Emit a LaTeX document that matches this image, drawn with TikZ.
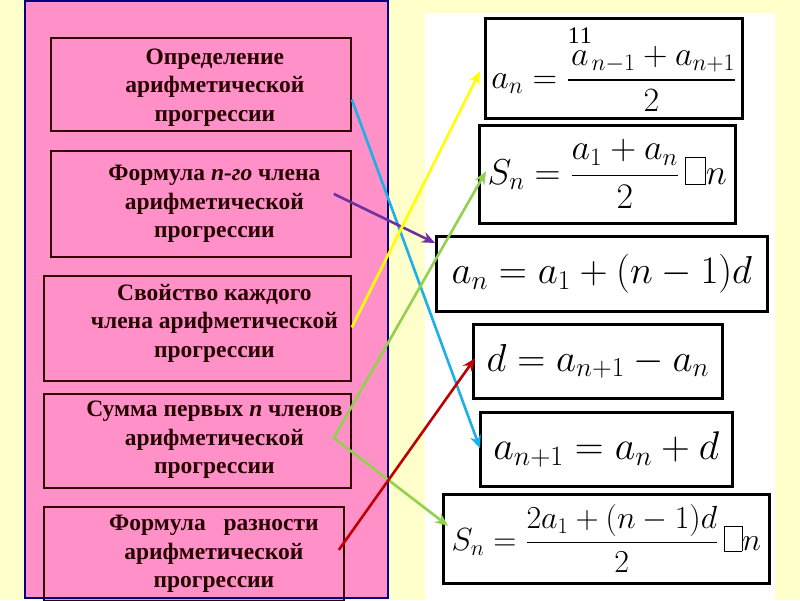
\RequirePackage{fix-cm}
\documentclass[tikz,border=0pt]{standalone}
\usepackage{amsmath,amssymb}
\usepackage{fontspec}
\setmainfont{Liberation Serif}
\usetikzlibrary{arrows.meta,calc}
\definecolor{bgyellow}{RGB}{255,255,204}
\definecolor{pinkfill}{RGB}{255,145,200}
\definecolor{panelnavy}{RGB}{0,0,128}
\definecolor{arcyan}{RGB}{28,175,232}
\definecolor{arpurple}{RGB}{112,48,160}
\definecolor{aryellow}{RGB}{255,255,0}
\definecolor{argreen}{RGB}{146,208,80}
\definecolor{arred}{RGB}{192,0,0}
\newcommand{\tofubox}{\mbox{\setlength{\fboxsep}{0pt}\setlength{\fboxrule}{0.5pt}\fbox{\rule{0pt}{0.75em}\hspace{0.55em}}}}

\begin{document}
\begin{tikzpicture}[
  x=1pt, y=-1pt,
  topic/.style={draw=black!80!red, line width=1.8pt, fill=pinkfill, anchor=north west, inner sep=0pt},
  txt/.style={font=\fontsize{23.5}{28.5}\selectfont\bfseries, align=center, text=black!85!red},
  formula/.style={draw, line width=2.6pt, fill=white, anchor=north west, inner sep=0pt},
  arr/.style={-{Stealth[length=13pt,width=11pt]}, line width=2.6pt}
]
\useasboundingbox (0,0) rectangle (800,600);
\fill[bgyellow] (0,0) rectangle (800,600);
\filldraw[fill=pinkfill, draw=panelnavy, line width=2pt] (25,1) rectangle (388,598);
\fill[white] (425,13) rectangle (775,602);

% left column
\node[topic, minimum width=300pt, minimum height=93pt,
  label={[txt, xshift=14pt, yshift=-3pt]center:{Определение\\арифметической\\прогрессии}}] (def) at (50,37) {};
\node[topic, minimum width=300pt, minimum height=106pt,
  label={[txt, xshift=13.5pt]center:{Формула \textit{n-го} члена\\арифметической\\прогрессии}}] (nth) at (50,150) {};
\node[topic, minimum width=307pt, minimum height=105pt,
  label={[txt, xshift=17pt, yshift=5pt]center:{Свойство каждого\\члена арифметической\\прогрессии}}] (prop) at (43,275) {};
\node[topic, minimum width=307pt, minimum height=94pt,
  label={[txt, xshift=17pt, yshift=1pt]center:{Сумма первых \textit{n} членов\\арифметической\\прогрессии}}] (sum) at (43,393) {};
\node[topic, minimum width=300pt, minimum height=94pt,
  label={[txt, xshift=20pt]center:{Формула\ \ \ разности\\арифметической\\прогрессии}}] (diff) at (43,506) {};
\draw[panelnavy, line width=2pt] (25,598) -- (388,598);

% right column
\node[formula, minimum width=257pt, minimum height=100pt, font=\fontsize{34}{36}\selectfont] (fmid) at (484,17)
  {$a_n = \dfrac{\overset{\mathrm{11}}{a}_{n-1} + a_{n+1}}{2}$};
\node[formula, minimum width=256pt, minimum height=98pt, font=\fontsize{36}{38}\selectfont] (fsum) at (478,124)
  {$S_n = \dfrac{a_1 + a_n}{2}\,\tofubox n$};
\node[formula, minimum width=331pt, minimum height=75pt, font=\fontsize{39}{42}\selectfont] (fnth) at (435,235)
  {$a_n = a_1 + (n-1)d$};
\node[formula, minimum width=249pt, minimum height=74pt, font=\fontsize{39}{42}\selectfont] (fdiff) at (472,323)
  {$d = a_{n+1} - a_n$};
\node[formula, minimum width=252pt, minimum height=74pt, font=\fontsize{40}{42}\selectfont] (fnext) at (479,411)
  {$a_{n+1} = a_n + d$};
\node[formula, minimum width=326pt, minimum height=89pt, font=\fontsize{32}{34}\selectfont] (fsumd) at (442,493)
  {$S_n = \dfrac{2a_1 + (n-1)d}{2}\,\tofubox n$};

% links
\draw[arr, arcyan] ($(def.east)+(0,15)$) -- ($(fnext.west)+(1,-1)$);
\draw[arr, arpurple] ($(nth.east)+(-18,-10)$) -- ($(fnth.north west)+(0,8)$);
\draw[arr, aryellow] ($(prop.east)+(0,-1)$) -- ($(fmid.west)+(-4,3)$);
\draw[arr, argreen, {Stealth[length=13pt,width=11pt]}-{Stealth[length=13pt,width=11pt]}]
  ($(fsum.west)+(8,-3)$) -- ($(sum.east)+(-18,-3)$) -- ($(fsumd.west)+(6,-13)$);
\draw[arr, arred] ($(diff.east)+(-6,-4)$) -- ($(fdiff.west)+(3,-3)$);
\end{tikzpicture}
\end{document}
